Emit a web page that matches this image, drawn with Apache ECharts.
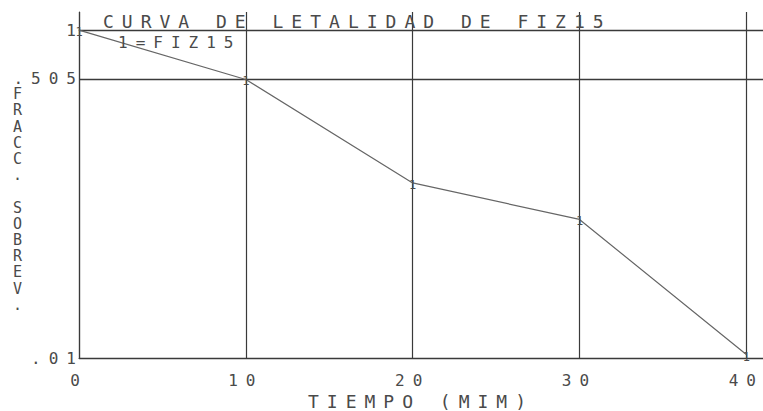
<!DOCTYPE html>
<html>
<head>
<meta charset="utf-8">
<script src="https://cdn.jsdelivr.net/npm/echarts@6/dist/echarts.min.js"></script>
<style>
  html, body { margin: 0; padding: 0; background: #fff; }
  #chart { width: 763px; height: 411px; letter-spacing: 8px; }
</style>
</head>
<body>
<div id="chart"></div>
<script>
// tiempo (min) y fraccion de sobrevivientes
var tiempo = [0, 10, 20, 30, 40];
var sobrev = [1, 0.5, 0.117, 0.07, 0.0105];
var xTicks = [0, 10, 20, 30, 40];
var yTicks = [0.01, 0.505, 1];
var titulo = 'CURVA DE LETALIDAD DE FIZ15';
var leyenda = '1=FIZ15';
var nombreX = 'TIEMPO (MIM)';
var nombreY = 'FRACC. SOBREV.';

var fuente = 'DejaVu Sans Mono';
var gris = '#4a4a4a';
var linea = '#3a3a3a';

var myChart = echarts.init(document.getElementById('chart'), null, {renderer: 'svg'});

var option = {
    backgroundColor: '#fff',
    animation: false,
    textStyle: {fontFamily: fuente, color: gris},
    title: [
        {
            text: titulo, left: 103, top: 12, padding: 0,
            textStyle: {fontFamily: fuente, fontSize: 18, fontWeight: 'normal', color: gris}
        },
        {
            text: leyenda, left: 118, top: 34, padding: 0,
            textStyle: {fontFamily: fuente, fontSize: 16, fontWeight: 'normal', color: gris}
        },
        {
            text: nombreY.split('').join('\n'), left: 13, top: 86, padding: 0,
            textStyle: {fontFamily: fuente, fontSize: 15, fontWeight: 'normal', color: gris, lineHeight: 16.2}
        }
    ],
    grid: {left: 79, right: 0, top: 12, bottom: 53, outerBoundsMode: 'none', containLabel: false},
    xAxis: {
        type: 'value',
        min: 0,
        max: 41,
        name: nombreX,
        nameLocation: 'middle',
        nameGap: 32,
        nameTextStyle: {fontFamily: fuente, fontSize: 18, color: gris},
        axisLine: {show: true, lineStyle: {color: linea, width: 1.2}},
        axisTick: {show: false, customValues: xTicks},
        axisLabel: {
            customValues: xTicks,
            margin: 14,
            fontFamily: fuente, fontSize: 16, color: gris
        },
        splitLine: {show: true, lineStyle: {color: linea, width: 1.2}}
    },
    yAxis: {
        type: 'log',
        logBase: 10,
        min: 0.01,
        max: 1.29,
        axisLine: {show: true, lineStyle: {color: linea, width: 1.2}},
        axisTick: {show: false, customValues: yTicks},
        axisLabel: {
            customValues: yTicks,
            margin: -5,
            fontFamily: fuente, fontSize: 16, color: gris,
            formatter: function (v) {
                return String(v).replace(/^0/, '');
            }
        },
        splitLine: {show: true, lineStyle: {color: linea, width: 1.4}}
    },
    series: [
        {
            type: 'line',
            data: tiempo.map(function (t, i) { return [t, sobrev[i]]; }),
            symbol: 'circle',
            symbolSize: 1,
            itemStyle: {color: '#666'},
            lineStyle: {color: '#666', width: 1.2},
            label: {
                show: true,
                position: 'inside',
                offset: [4, 2],
                formatter: '1',
                fontFamily: fuente, fontSize: 12, color: gris
            }
        }
    ]
};

myChart.setOption(option);
</script>
</body>
</html>
